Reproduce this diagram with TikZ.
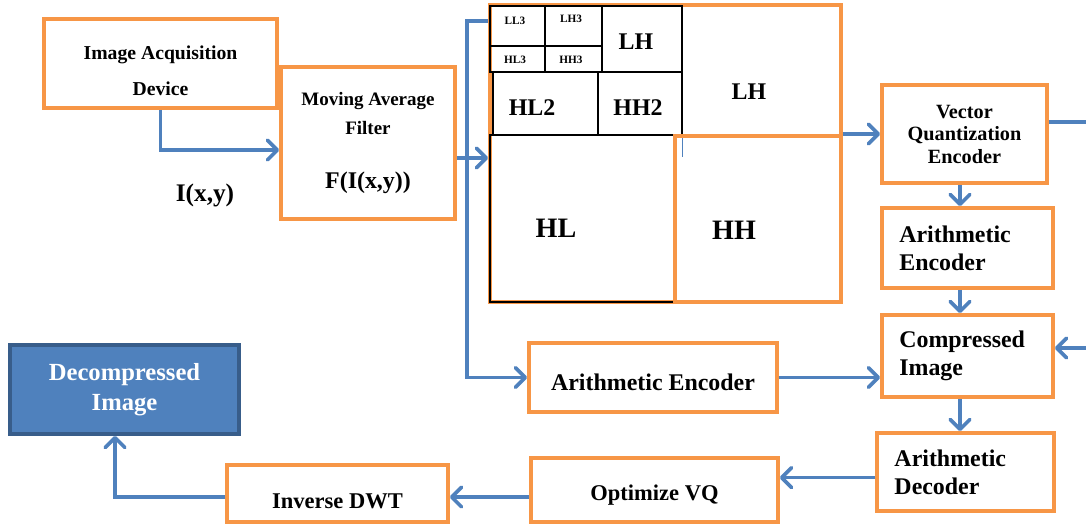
\documentclass[tikz,border=0pt]{standalone}
\usepackage{fontspec}
\setmainfont{Liberation Serif}
\usetikzlibrary{arrows.meta, positioning}

\definecolor{boxorange}{HTML}{F79646}
\definecolor{flowblue}{HTML}{4F81BD}
\definecolor{darkblue}{HTML}{385D8A}

\begin{document}
\begin{tikzpicture}[
    x=0.025cm, y=-0.025cm,
    box/.style={rectangle, draw=boxorange, line width=2.6pt, fill=white, align=center, font=\bfseries\fontsize{13.5}{16}\selectfont},
    bigbox/.style={box, font=\bfseries\fontsize{17}{20}\selectfont},
    leftbox/.style={bigbox, align=left, inner xsep=12pt, text width=#1},
    outbox/.style={bigbox, draw=darkblue, fill=flowblue, text=white, font=\bfseries\fontsize{17.5}{21}\selectfont},
    band/.style={draw=boxorange, line width=2.6pt},
    cell/.style={draw=black, line width=0.9pt},
    tinylbl/.style={font=\bfseries\fontsize{8}{9}\selectfont, inner sep=0pt},
    midlbl/.style={font=\bfseries\fontsize{17}{20}\selectfont, inner sep=0pt},
    biglbl/.style={font=\bfseries\fontsize{20}{24}\selectfont, inner sep=0pt},
    arrow/.style={draw=flowblue, line width=2.6pt, -{Straight Barb[round, length=7pt, width=14pt]}}
  ]
  \useasboundingbox (0,0) rectangle (1086,524);

  % acquisition and filtering
  \node[box, font=\bfseries\fontsize{14}{16}\selectfont, minimum width=5.825cm, minimum height=2.225cm, text height=45pt] (acq) at (160.5,63.5) {Image Acquisition\\[9pt]Device};
  \node[box, minimum width=4.35cm, minimum height=3.8cm] (maf) at (368,143) {Moving Average\\[4.5pt]Filter\\[22pt]{\fontsize{17}{20}\selectfont F(I(x,y))}};
  \node[font=\bfseries\fontsize{18}{22}\selectfont] (ixy) at (205,195) {I(x,y)};

  % sub-band grid
  \node[band, minimum width=8.775cm, minimum height=7.425cm, inner sep=0pt] (dwt) at (665.5,153.5) {};
  \draw[flowblue, line width=0.6pt] (682,6) -- (682,157);
  \draw[cell] (490,6) rectangle (545,46);
  \draw[cell] (545,6) rectangle (602,46);
  \draw[cell] (490,46) rectangle (545,72);
  \draw[cell] (545,46) rectangle (602,72);
  \draw[cell] (602,6) rectangle (682,72);
  \draw[cell] (493,72) rectangle (598,135);
  \draw[cell] (598,72) rectangle (682,135);
  \draw[cell] (490,135) rectangle (675,302);
  \draw[band] (675,136) rectangle (841,302);
  \node[tinylbl] (ll3) at (515,21) {LL3};
  \node[tinylbl] (lh3) at (571,19) {LH3};
  \node[tinylbl] (hl3) at (515,60) {HL3};
  \node[tinylbl] (hh3) at (571,60) {HH3};
  \node[midlbl] (lh2) at (636,42) {LH};
  \node[midlbl] (hl2) at (532,108) {HL2};
  \node[midlbl] (hh2) at (638,108) {HH2};
  \node[midlbl] (lh1) at (749,92) {LH};
  \node[biglbl] (hl1) at (556,228) {HL};
  \node[biglbl] (hh1) at (734,230) {HH};

  % coding chain
  \node[box, font=\bfseries\fontsize{14.4}{16}\selectfont, minimum width=4.125cm, minimum height=2.45cm] (vqe) at (964.5,134) {Vector\\Quantization\\Encoder};
  \node[leftbox=97pt, minimum width=4.275cm, minimum height=2cm] (aenc) at (967.5,248) {Arithmetic\\Encoder};
  \node[leftbox=97pt, minimum width=4.275cm, minimum height=2.05cm] (comp) at (967.5,356) {Compressed\\Image};
  \node[bigbox, minimum width=6.2cm, minimum height=1.725cm, text height=18.5pt] (aenc2) at (653,377.5) {Arithmetic Encoder};
  \node[leftbox=101pt, minimum width=4.425cm, minimum height=1.95cm] (adec) at (965.5,472) {Arithmetic\\Decoder};
  \node[box, font=\bfseries\fontsize{16}{19}\selectfont, minimum width=6.175cm, minimum height=1.6cm, text height=19pt] (ovq) at (654.5,490) {Optimize VQ};
  \node[box, font=\bfseries\fontsize{16}{19}\selectfont, minimum width=5.525cm, minimum height=1.425cm, text height=22pt] (idwt) at (337.5,493.5) {Inverse DWT};
  \node[outbox, minimum width=5.725cm, minimum height=2.225cm] (decomp) at (124.5,389.5) {Decompressed\\Image};

  \coordinate (split) at (467,158);
  \coordinate (loop) at (1092,348);
  \coordinate (spine) at (960,0);
  \coordinate (decout) at ([yshift=-4pt]adec.west);
  \coordinate (vqout) at ([yshift=-5pt]ovq.west);
  \coordinate (invout) at ([yshift=-2.5pt]idwt.west);

  \draw[arrow] (acq.south) |- ([yshift=-5pt]maf.west);
  \draw[arrow] (maf.east |- split) -- (dwt.west |- split);
  \draw[arrow] (dwt.west |- ll3) -| (split) |- (aenc2.west);
  \draw[arrow] (dwt.east |- vqe.west) -- (vqe.west);
  \draw[arrow] ([yshift=8.5pt]vqe.east) -| (loop) -- (comp.east |- loop);
  \draw[arrow] (spine |- vqe.south) -- (spine |- aenc.north);
  \draw[arrow] (spine |- aenc.south) -- (spine |- comp.north);
  \draw[arrow] (spine |- comp.south) -- (spine |- adec.north);
  \draw[arrow] (aenc2.east) -- (aenc2.east -| comp.west);
  \draw[arrow] (decout) -- (decout -| ovq.east);
  \draw[arrow] (vqout) -- (vqout -| idwt.east);
  \draw[arrow] (invout) -| ([xshift=-6.75pt]decomp.south);
\end{tikzpicture}
\end{document}
